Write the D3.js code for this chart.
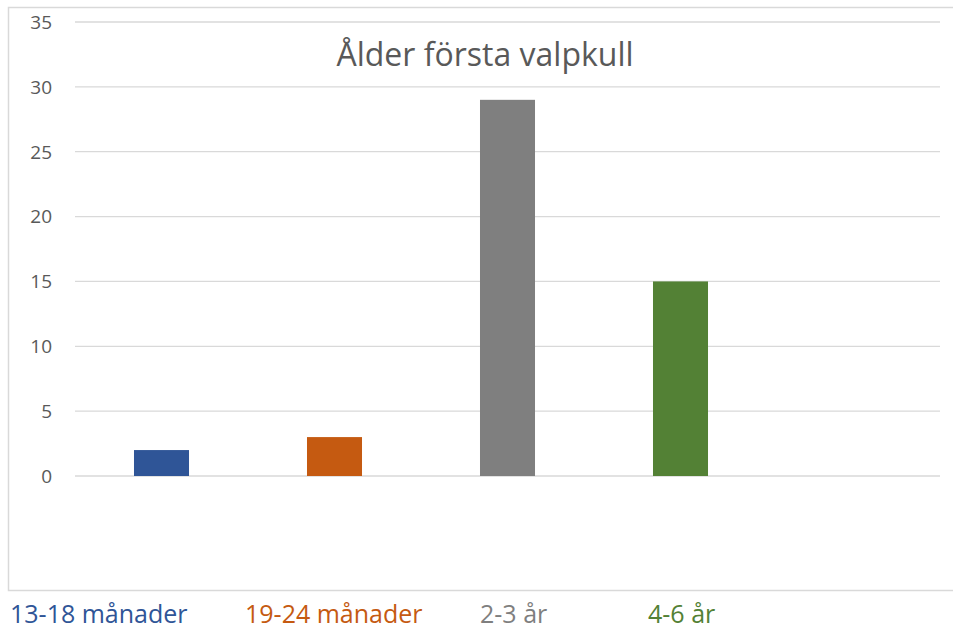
<!DOCTYPE html>
<html>
<head>
<meta charset="utf-8">
<script src="https://cdn.jsdelivr.net/npm/d3@7"></script>
<style>
  body { margin: 0; background: #fff; }
  text { font-family: "Open Sans", "Noto Sans", sans-serif; }
</style>
</head>
<body>
<div id="chart"></div>
<script>
// data
var categories = ["13-18 månader", "19-24 månader", "2-3 år", "4-6 år", ""];
var values = [2, 3, 29, 15, null];
var colors = ["#2f5597", "#c55a11", "#7f7f7f", "#538135"];
var yTicks = [0, 5, 10, 15, 20, 25, 30, 35];
var title = "Ålder första valpkull";

// bottom label positions (text boxes under the frame)
var labelX = [10, 245, 480, 648];

var w = 953, h = 630;
var svg = d3.select("#chart").append("svg")
    .attr("width", w)
    .attr("height", h);

// outer frame
svg.append("rect")
    .attr("x", 8.5).attr("y", 7.5)
    .attr("width", 960).attr("height", 583)
    .style("fill", "none")
    .style("stroke", "#d9d9d9")
    .style("stroke-width", 1.5);

var x = d3.scaleBand()
    .domain(d3.range(categories.length))
    .range([75, 940])
    .paddingInner(0.682)
    .paddingOuter(0.341);

var y = d3.scaleLinear()
    .domain([0, 35])
    .range([476, 22]);

// gridlines
svg.selectAll(".grid")
    .data(yTicks)
    .enter().append("line")
    .attr("class", "grid")
    .attr("x1", 75).attr("x2", 940)
    .attr("y1", function(d) { return y(d); })
    .attr("y2", function(d) { return y(d); })
    .style("stroke", "#d9d9d9")
    .style("stroke-width", 1.3);

// y axis labels
svg.selectAll(".ylab")
    .data(yTicks)
    .enter().append("text")
    .attr("class", "ylab")
    .attr("x", 52)
    .attr("y", function(d) { return y(d); })
    .attr("dy", "0.36em")
    .attr("text-anchor", "end")
    .style("font-size", "19px")
    .style("fill", "#595959")
    .text(function(d) { return d; });

// bars
svg.selectAll(".bar")
    .data(values)
    .enter().filter(function(d) { return d != null; })
    .append("rect")
    .attr("class", "bar")
    .attr("x", function(d, i) { return x(i); })
    .attr("y", function(d) { return y(d); })
    .attr("width", x.bandwidth())
    .attr("height", function(d) { return y(0) - y(d); })
    .style("fill", function(d, i) { return colors[i]; });

// title
svg.append("text")
    .attr("x", 485)
    .attr("y", 66)
    .attr("text-anchor", "middle")
    .style("font-size", "32px")
    .style("fill", "#595959")
    .text(title);

// category labels under the chart
svg.selectAll(".catlab")
    .data(categories.slice(0, 4))
    .enter().append("text")
    .attr("class", "catlab")
    .attr("x", function(d, i) { return labelX[i]; })
    .attr("y", 623)
    .style("font-size", "25px")
    .style("fill", function(d, i) { return colors[i]; })
    .text(function(d) { return d; });
</script>
</body>
</html>
